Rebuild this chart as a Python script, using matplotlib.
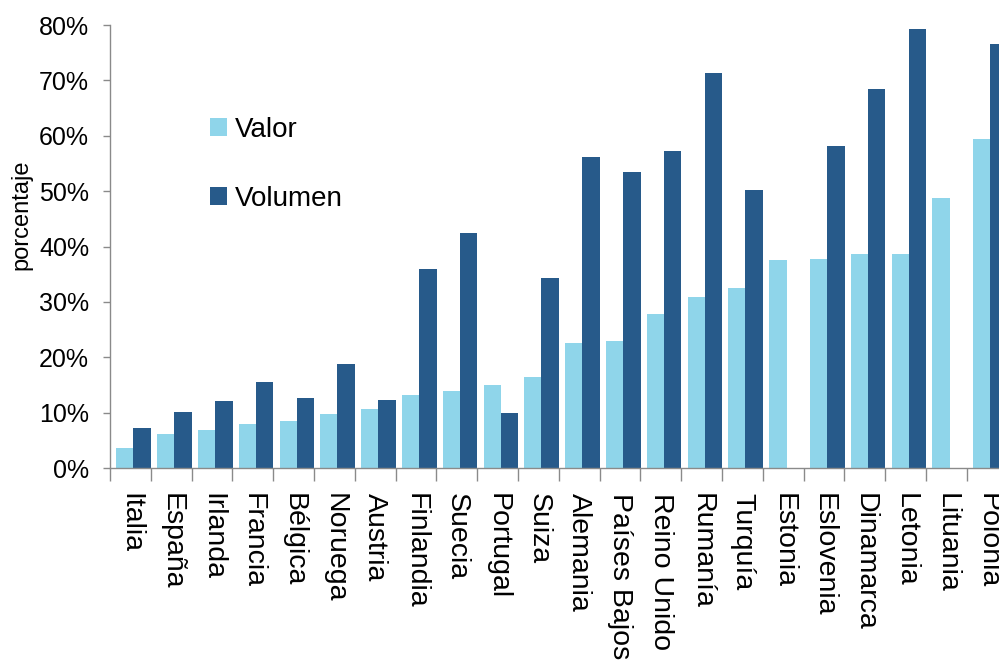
import matplotlib.pyplot as plt
import numpy as np

paises = ["Italia", "España", "Irlanda", "Francia", "Bélgica", "Noruega",
          "Austria", "Finlandia", "Suecia", "Portugal", "Suiza", "Alemania",
          "Países Bajos", "Reino Unido", "Rumanía", "Turquía", "Estonia",
          "Eslovenia", "Dinamarca", "Letonia", "Lituania", "Polonia"]
valor = [3.6, 6.2, 6.8, 8.0, 8.4, 9.7, 10.7, 13.1, 13.9, 15.0, 16.4, 22.6,
         22.9, 27.8, 30.8, 32.5, 37.5, 37.8, 38.7, 38.6, 48.7, 59.5]
volumen = [7.3, 10.1, 12.1, 15.6, 12.6, 18.7, 12.3, 36.0, 42.4, 9.9, 34.4, 56.1,
           53.4, 57.3, 71.3, 50.2, 0.0, 58.1, 68.5, 79.3, 0.0, 76.5]
yticks = [0, 10, 20, 30, 40, 50, 60, 70, 80]

plt.rcParams['font.family'] = ['Liberation Sans', 'DejaVu Sans']

fig = plt.figure(figsize=(9.99, 6.6), dpi=100)
# the axis runs a little past the right edge, so Polonia gets clipped
ax = fig.add_axes([0.1101, 0.2909, 0.8985, 0.6712])

x = np.arange(len(paises))
w = 0.43
ax.bar(x - 0.13, valor, w, color="#8fd5ea", label="Valor")
ax.bar(x + 0.29, volumen, w, color="#275a8a", label="Volumen")

ax.set_xlim(-0.5, len(paises) - 0.5)
ax.set_ylim(0, 80)
ax.set_yticks(yticks)
ax.set_yticklabels([f"{t}%" for t in yticks], fontsize=18)
ax.tick_params(axis="y", length=5, width=1, color="#8a8a8a", pad=10)

# ticks sit on the category boundaries, names in the middle
ax.set_xticks(np.arange(len(paises) + 1) - 0.5)
ax.set_xticklabels([])
ax.set_xticks(x, minor=True)
ax.set_xticklabels(paises, minor=True, rotation=-90, fontsize=20.5,
                   va="top", ha="center")
ax.tick_params(axis="x", which="major", length=9, width=1, color="#8a8a8a")
ax.tick_params(axis="x", which="minor", length=0, pad=18)

for s in ["top", "right"]:
    ax.spines[s].set_visible(False)
for s in ["left", "bottom"]:
    ax.spines[s].set_color("#8a8a8a")
    ax.spines[s].set_linewidth(1)

ax.set_ylabel("porcentaje", fontsize=17)
ax.yaxis.set_label_coords(-0.086, 0.571)

ax.legend(loc="upper left", bbox_to_anchor=(0.21, 0.823),
          bbox_transform=fig.transFigure, frameon=False, fontsize=20,
          handlelength=0.62, handleheight=0.62, handletextpad=0.3,
          labelspacing=1.55, borderpad=0, borderaxespad=0)

fig.savefig("out.png", dpi=100)
